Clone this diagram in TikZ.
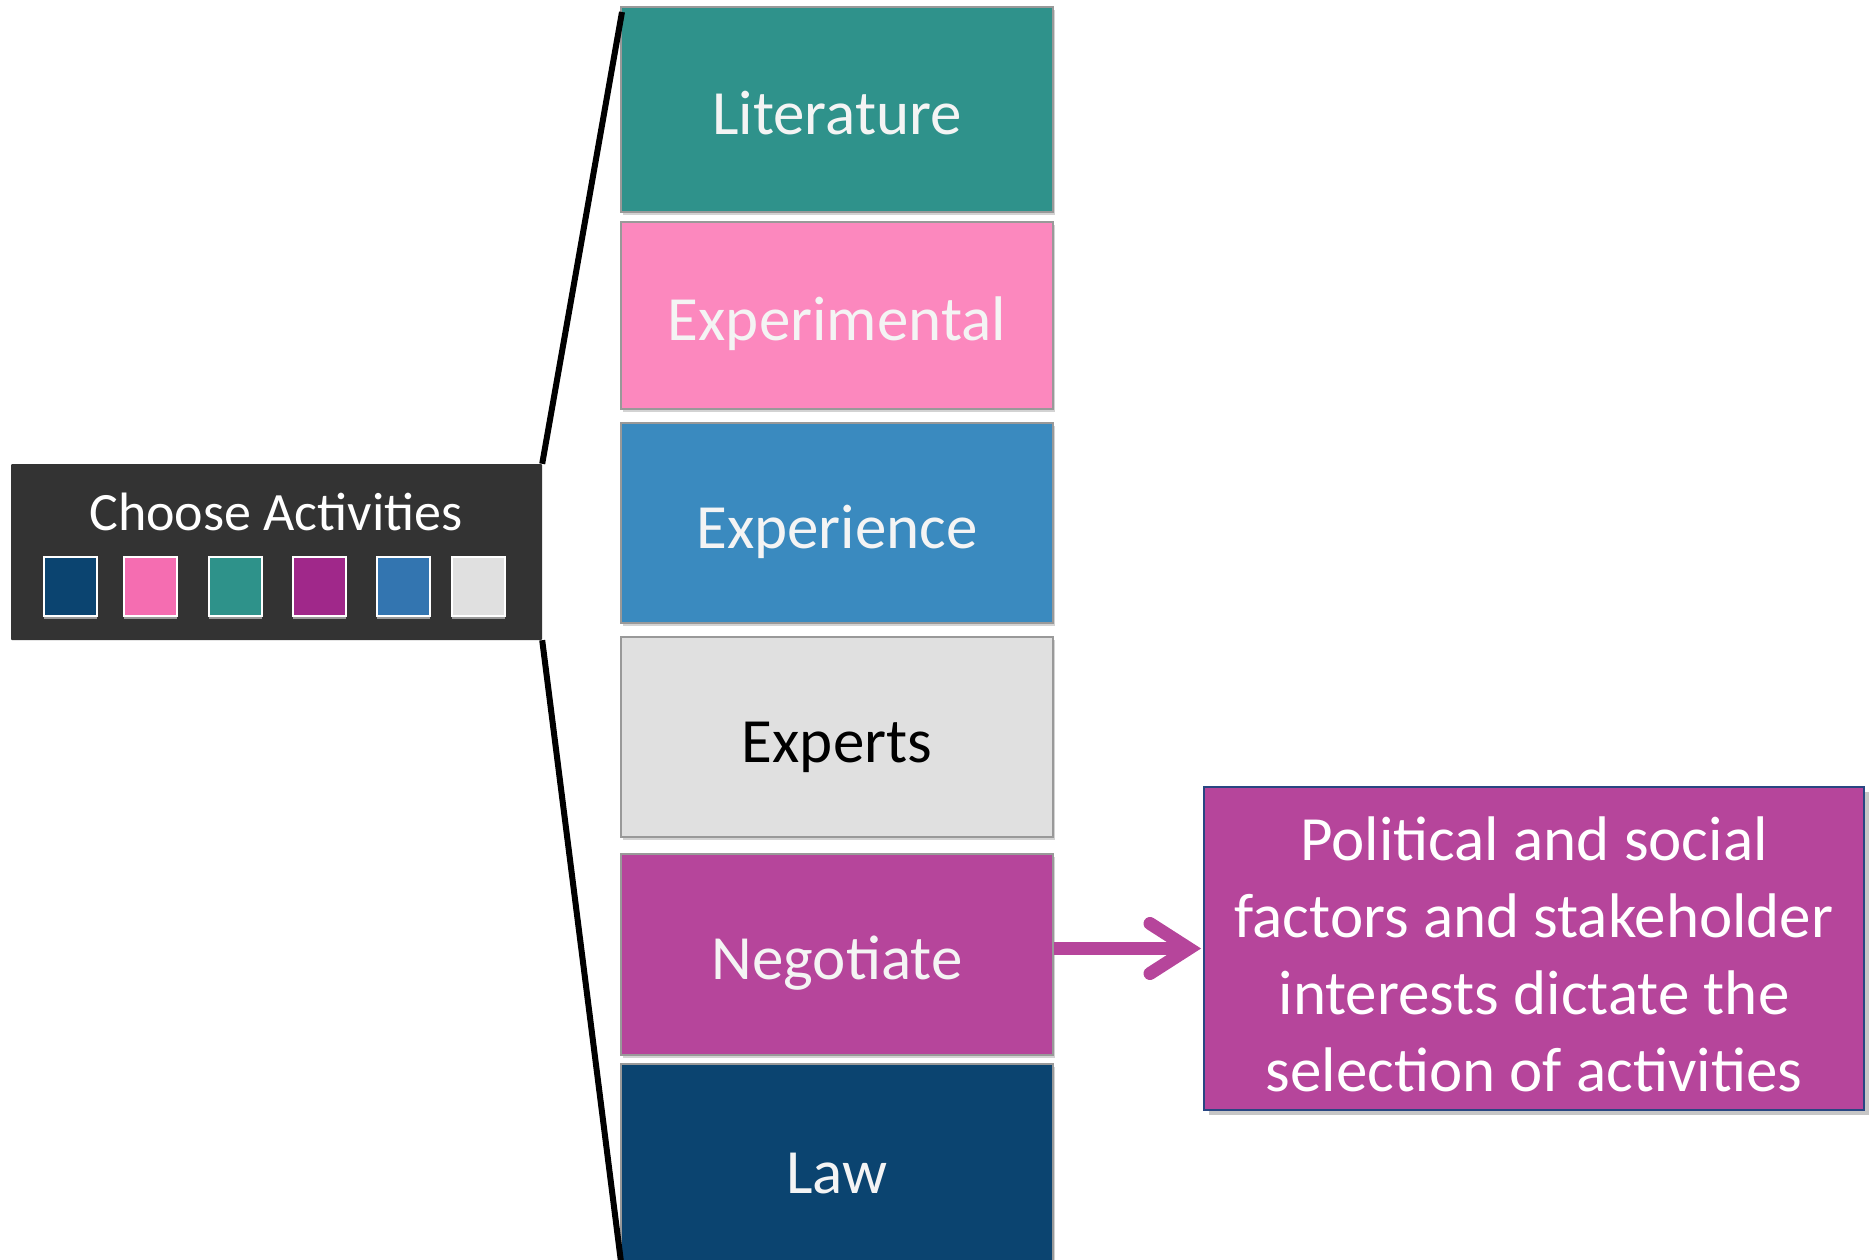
\documentclass[tikz,border=0pt]{standalone}
\usepackage{fontspec}
\setmainfont{Carlito}
\usetikzlibrary{shadows,arrows.meta}
\definecolor{cTeal}{RGB}{47,146,139}
\definecolor{cPink}{RGB}{252,136,190}
\definecolor{cBlue}{RGB}{58,138,191}
\definecolor{cGray}{RGB}{224,224,224}
\definecolor{cMag}{RGB}{182,69,155}
\definecolor{cNavy}{RGB}{11,68,112}
\definecolor{cDark}{RGB}{51,51,51}
\definecolor{cTxt}{RGB}{244,244,244}
\definecolor{sNavy}{RGB}{11,68,112}
\definecolor{sPink}{RGB}{245,109,177}
\definecolor{sTeal}{RGB}{46,146,138}
\definecolor{sPurple}{RGB}{160,40,138}
\definecolor{sBlue}{RGB}{51,117,176}
\definecolor{sGray}{RGB}{224,224,224}
\definecolor{rbBorder}{RGB}{40,70,130}
\tikzset{
  actbox/.style={draw=gray!80, line width=1.5pt, minimum width=432pt, inner sep=0pt,
    text=cTxt, font=\fontsize{63}{77}\selectfont, text height=50pt, text depth=0pt,
    drop shadow={shadow xshift=2pt, shadow yshift=-3pt, opacity=0.35}},
  swatch/.style={draw=white, line width=2pt, minimum width=53pt, minimum height=59pt, inner sep=0pt,
    drop shadow={shadow xshift=0pt, shadow yshift=-3pt, opacity=0.5, fill=white}},
  bracket/.style={line width=6pt, black},
  magline/.style={cMag, line width=13pt}
}
\begin{document}
\begin{tikzpicture}[x=1pt,y=-1pt]
\useasboundingbox (0,0) rectangle (1875,1260);
\clip (0,0) rectangle (1875,1260);
% bracket ends
\coordinate (btop) at (622,12);
\coordinate (bbot) at (621,1262);
% activity boxes
\node[actbox, fill=cTeal, minimum height=205pt] (lit) at (837,109.5) {Literature};
\node[actbox, fill=cPink, minimum height=187pt] (expm) at (837,315.5) {Experimental};
\node[actbox, fill=cBlue, minimum height=200pt] (expc) at (837,523) {Experience};
\node[actbox, fill=cGray, minimum height=200pt, text=black] (expt) at (837,737) {Experts};
\node[actbox, fill=cMag, minimum height=201pt] (neg) at (837,954.5) {Negotiate};
\node[actbox, fill=cNavy, minimum height=208pt] (law) at (837,1168) {Law};
% choose box
\node[fill=cDark, minimum width=531pt, minimum height=176pt, inner sep=0pt, rounded corners=1pt] (choose) at (276.5,552) {};
\node[text=white, font=\fontsize{54}{60}\selectfont] (ctitle) at (276,512) {Choose Activities};
\node[swatch, fill=sNavy] (s1) at (70.5,586.5) {};
\node[swatch, fill=sPink] (s2) at (150.5,586.5) {};
\node[swatch, fill=sTeal] (s3) at (235.5,586.5) {};
\node[swatch, fill=sPurple] (s4) at (319.5,586.5) {};
\node[swatch, fill=sBlue] (s5) at (403,586.5) {};
\node[swatch, fill=sGray] (s6) at (478.5,586.5) {};
\draw[bracket] (choose.north east) -- (btop);
\draw[bracket] (choose.south east) -- (bbot);
% result box
\node[draw=rbBorder, line width=2pt, fill=cMag, minimum width=660pt, minimum height=323pt, inner sep=0pt,
  drop shadow={shadow xshift=5pt, shadow yshift=-5pt, opacity=0.45}] (rb) at (1534,948.5) {};
\node[text=white, align=center, font=\fontsize{63}{77}\selectfont] (rbtext) at (1534,954.5)
  {Political and social\\factors and stakeholder\\interests dictate the\\selection of activities};
% arrow
\coordinate (tip) at ([xshift=-14pt]rb.west |- 0,948.5);
\draw[magline] (neg.east |- 0,948.5) -- (tip);
\draw[magline, line cap=round, line join=miter] ([xshift=-39pt,yshift=25pt]tip) -- (tip) -- ([xshift=-39pt,yshift=-25pt]tip);
\end{tikzpicture}
\end{document}
